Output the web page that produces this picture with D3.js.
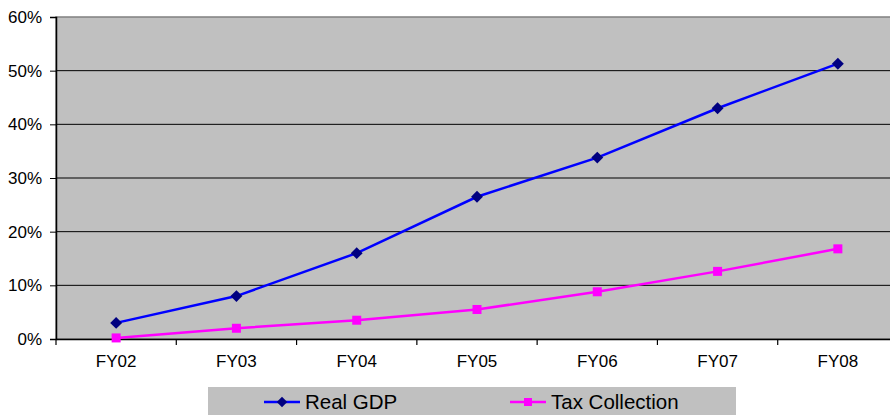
<!DOCTYPE html>
<html>
<head>
<meta charset="utf-8">
<script src="https://cdn.jsdelivr.net/npm/d3@7"></script>
<style>
  body { margin: 0; background: #fff; }
  text { font-family: "Liberation Sans", Arial, sans-serif; fill: #000; }
</style>
</head>
<body>
<svg id="chart" width="890" height="415"></svg>
<script>
const categories = ["FY02", "FY03", "FY04", "FY05", "FY06", "FY07", "FY08"];
const realGdp = [3.0, 8.0, 16.0, 26.5, 33.8, 43.0, 51.3];
const taxCollection = [0.2, 2.0, 3.5, 5.5, 8.8, 12.6, 16.8];
const yTicks = [0, 10, 20, 30, 40, 50, 60];

const svg = d3.select("#chart");
const m = {left: 56, top: 17, right: 898, bottom: 339};

const x = d3.scaleBand().domain(categories).range([m.left, m.right]);
const y = d3.scaleLinear().domain([0, 60]).range([m.bottom, m.top]);
const cx = d => x(d) + x.bandwidth() / 2;

// plot area
svg.append("rect")
  .attr("x", m.left).attr("y", m.top)
  .attr("width", m.right - m.left).attr("height", m.bottom - m.top)
  .attr("fill", "#c0c0c0").attr("stroke", "#808080").attr("stroke-width", 1.5);

// gridlines
svg.append("g").selectAll("line").data(yTicks.slice(1, -1)).join("line")
  .attr("x1", m.left).attr("x2", m.right)
  .attr("y1", d => y(d)).attr("y2", d => y(d))
  .attr("stroke", "#000").attr("stroke-width", 1);

// y axis
const yAxis = svg.append("g").attr("transform", `translate(${m.left},0)`)
  .call(d3.axisLeft(y).tickValues(yTicks).tickFormat(d => d + "%").tickSize(6).tickPadding(8));
yAxis.select(".domain").attr("stroke", "#000").attr("stroke-width", 1.5);
yAxis.selectAll("text").style("font-size", "17px").attr("fill", "#000");

// x axis with ticks between categories
const xAxis = svg.append("g").attr("transform", `translate(0,${m.bottom})`)
  .call(d3.axisBottom(x).tickSize(0).tickPadding(16));
xAxis.select(".domain").attr("stroke", "#000").attr("stroke-width", 1.5);
xAxis.selectAll("text").style("font-size", "17px").attr("fill", "#000");
svg.append("g").selectAll("line").data(categories).join("line")
  .attr("x1", d => x(d)).attr("x2", d => x(d))
  .attr("y1", m.bottom).attr("y2", m.bottom + 6)
  .attr("stroke", "#000").attr("stroke-width", 1.2);

const line = d3.line().x((d, i) => cx(categories[i])).y(d => y(d));

// Real GDP
svg.append("path").datum(realGdp).attr("d", line)
  .attr("fill", "none").attr("stroke", "#0000ff").attr("stroke-width", 2.5);
svg.append("g").selectAll("path").data(realGdp).join("path")
  .attr("d", d3.symbol(d3.symbolDiamond2, 90))
  .attr("transform", (d, i) => `translate(${cx(categories[i])},${y(d)})`)
  .attr("fill", "#000080");

// Tax Collection
svg.append("path").datum(taxCollection).attr("d", line)
  .attr("fill", "none").attr("stroke", "#ff00ff").attr("stroke-width", 2.5);
svg.append("g").selectAll("rect").data(taxCollection).join("rect")
  .attr("x", (d, i) => cx(categories[i]) - 4.5).attr("y", d => y(d) - 4.5)
  .attr("width", 9).attr("height", 9)
  .attr("fill", "#ff00ff");

// legend
const lg = svg.append("g");
lg.append("rect").attr("x", 208).attr("y", 387).attr("width", 528).attr("height", 30)
  .attr("fill", "#c0c0c0");
const items = [
  {name: "Real GDP", color: "#0000ff", mark: "#000080", x: 264, shape: "diamond"},
  {name: "Tax Collection", color: "#ff00ff", mark: "#ff00ff", x: 510, shape: "square"}
];
items.forEach(it => {
  lg.append("line").attr("x1", it.x).attr("x2", it.x + 36).attr("y1", 402).attr("y2", 402)
    .attr("stroke", it.color).attr("stroke-width", 2.5);
  if (it.shape === "diamond") {
    lg.append("path").attr("d", d3.symbol(d3.symbolDiamond2, 70))
      .attr("transform", `translate(${it.x + 18},402)`).attr("fill", it.mark);
  } else {
    lg.append("rect").attr("x", it.x + 14).attr("y", 398).attr("width", 8).attr("height", 8)
      .attr("fill", it.mark);
  }
  lg.append("text").attr("x", it.x + 41).attr("y", 409).style("font-size", "20.5px").text(it.name);
});
</script>
</body>
</html>
